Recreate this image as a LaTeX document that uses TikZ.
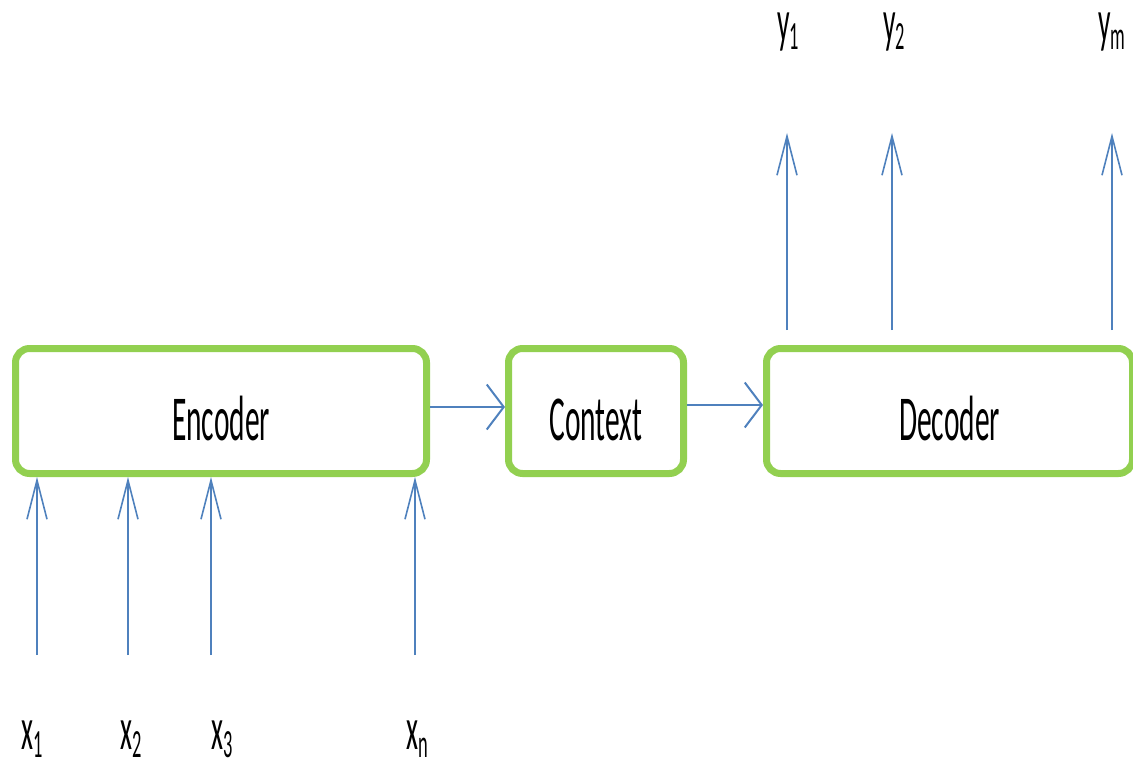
\documentclass[tikz,border=0pt]{standalone}
\usepackage{fontspec}
\usetikzlibrary{arrows.meta}
\newfontfamily\cfont[FakeStretch=0.46]{Carlito}
\definecolor{boxgreen}{HTML}{92D050}
\definecolor{lineblue}{HTML}{4F81BD}
\newcommand{\lblsub}[2]{#1\raisebox{-8pt}{\fontsize{40}{40}\selectfont #2}}
\tikzset{
  block/.style={draw=boxgreen, line width=7pt, rounded corners=14pt, fill=white,
    inner sep=0pt, minimum height=125pt, text height=58pt, text depth=0pt,
    font=\cfont\fontsize{64}{64}\selectfont},
  harr/.style={draw=lineblue, line width=2pt, -{Straight Barb[length=17pt,width=45pt,line width=2pt]}},
  varr/.style={draw=lineblue, line width=1.6pt, -{Straight Barb[length=39pt,width=20pt,line width=1.6pt]}},
  lbl/.style={anchor=base, inner sep=0pt, font=\cfont\fontsize{60}{60}\selectfont}
}
\begin{document}
\begin{tikzpicture}[x=1pt,y=-1pt]
\useasboundingbox (0,0) rectangle (1133,765);
% boxes
\node[block, minimum width=411pt] (enc) at (221,411) {Encoder};
\node[block, minimum width=175pt] (ctx) at (596,411) {Context};
\node[block, minimum width=366pt] (dec) at (949.5,411) {Decoder};
% horizontal connectors
\draw[harr] ([yshift=4pt]enc.east) -- ([yshift=4pt]ctx.west);
\draw[harr] ([yshift=6pt]ctx.east) -- ([yshift=6pt]dec.west);
% input coordinates and labels
\coordinate (i1) at (37,655);
\coordinate (i2) at (128,655);
\coordinate (i3) at (211,655);
\coordinate (in) at (415,655);
\node[lbl] (x1) at (32,749) {\lblsub{x}{1}};
\node[lbl] (x2) at (131,749) {\lblsub{x}{2}};
\node[lbl] (x3) at (222,749) {\lblsub{x}{3}};
\node[lbl] (xn) at (417,749) {\lblsub{x}{n}};
\draw[varr] (i1) -- (i1 |- enc.south);
\draw[varr] (i2) -- (i2 |- enc.south);
\draw[varr] (i3) -- (i3 |- enc.south);
\draw[varr] (in) -- (in |- enc.south);
% outputs
\coordinate (o1) at (787,133);
\coordinate (o2) at (892,133);
\coordinate (om) at (1112,133);
\draw[varr] ([yshift=15pt]dec.north -| o1) -- (o1);
\draw[varr] ([yshift=15pt]dec.north -| o2) -- (o2);
\draw[varr] ([yshift=15pt]dec.north -| om) -- (om);
\node[lbl] (y1) at (788,42) {\lblsub{y}{1}};
\node[lbl] (y2) at (894,42) {\lblsub{y}{2}};
\node[lbl] (ym) at (1112,42) {\lblsub{y}{m}};
\end{tikzpicture}
\end{document}
